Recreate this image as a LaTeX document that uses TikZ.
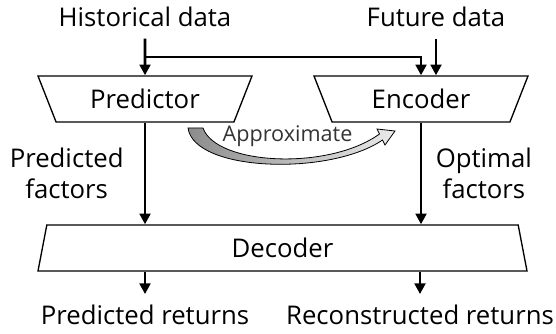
\documentclass[tikz,border=0pt]{standalone}
\usepackage{fontspec}
\setmainfont{Open Sans}
\usepackage{tikz}
\usetikzlibrary{positioning,calc,shapes.geometric,arrows.meta}
\newcommand\bigfont{\fontsize{19.3}{23.2}\selectfont}
\newcommand\midfont{\fontsize{16.2}{19.4}\selectfont}

\begin{document}
\begin{tikzpicture}[x=0.75pt, y=-0.75pt,
    block/.style={draw, line width=1pt, trapezium, trapezium stretches body,
      minimum height=34.5pt, inner sep=0pt, font=\bigfont},
    io/.style={font=\bigfont, inner sep=0pt, outer sep=8.5pt},
    side/.style={font=\bigfont, inner sep=0pt, align=center},
    flow/.style={line width=2.2pt, -{Triangle[width=8pt,length=8pt]}}]
    \useasboundingbox (0,0) rectangle (556,334);

    \node[block, shape border rotate=180, trapezium angle=47.6,
      minimum width=160.5pt] (pred) at (145,99) {Predictor};
    \node[block, shape border rotate=180, trapezium angle=47.6,
      minimum width=160.5pt] (enc) at (421,99) {Encoder};
    \node[block, trapezium angle=66, minimum width=366.75pt]
      (dec) at (282.5,248) {Decoder};

    \node[io, anchor=base] (hist) at (145,27) {Historical data};
    \node[io, anchor=base] (fut) at (436,27) {Future data};
    \node[io, anchor=base] (pret) at (145,325) {Predicted returns};
    \node[io, anchor=base] (rret) at (420,325) {Reconstructed returns};
    \coordinate (split) at (145,57);

    \shade[left color=black!45, right color=black!8, draw=black, line width=0.6pt]
      (188,128) .. controls (194,172) and (330,176) .. (382.5,140)
      -- (385,145) -- (395,131) -- (377,129) -- (379.5,134)
      .. controls (328,171) and (216,165) .. (203,128) -- cycle;
    \node[font=\midfont, text=black!80, inner sep=0pt, anchor=base]
      (approx) at (287.5,142) {Approximate};

    \path[flow]
        (hist.south) edge (pred.north)
        (fut.south) edge (fut.south |- enc.north)
        (pred.south) edge node[side, left=15pt] (pfac) {Predicted\\factors}
          (pred.south |- dec.north)
        (enc.south) edge node[side, right=10pt] (ofac) {Optimal\\factors}
          (enc.south |- dec.north)
        (dec.south -| pret.north) edge (pret.north)
        (dec.south -| rret.north) edge (rret.north);
    \draw[flow] (split) -| (enc.north);
\end{tikzpicture}
\end{document}
